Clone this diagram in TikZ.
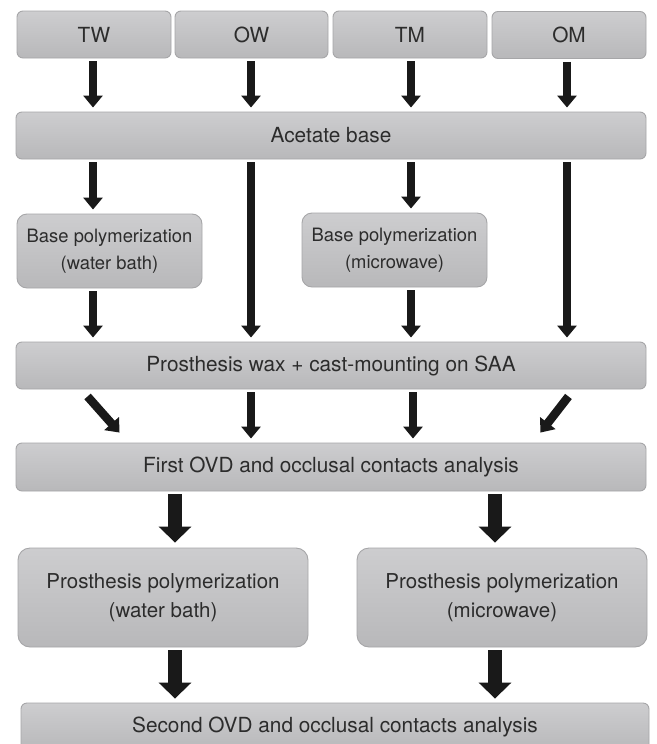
\documentclass[tikz,border=0pt]{standalone}
\usepackage{fontspec}
\setmainfont{TeX Gyre Heros}
\usetikzlibrary{arrows.meta,calc}
\definecolor{boxtop}{HTML}{CDCDCF}
\definecolor{boxbot}{HTML}{B8B8BA}
\definecolor{boxline}{HTML}{A6A6A8}
\definecolor{txt}{HTML}{2C2C2C}
\tikzset{
  box/.style={rectangle, rounded corners=6pt, top color=boxtop, bottom color=boxbot,
    draw=boxline, line width=0.9pt, text=txt, align=center, inner sep=0pt,
    font=\fontsize{20.8}{24}\selectfont},
  smallbox/.style={box, rounded corners=10pt, font=\fontsize{18.4}{27}\selectfont},
  bigbox/.style={box, rounded corners=12pt, font=\fontsize{20.5}{29}\selectfont},
  arr/.style={line width=8.5pt, draw=black!90, -{Triangle[width=19pt,length=12pt]}},
  bigarr/.style={line width=14pt, draw=black!90, -{Triangle[width=32pt,length=16pt]}}
}
\begin{document}
\begin{tikzpicture}[x=1pt,y=-1pt]
\useasboundingbox (0,0) rectangle (656,744);
\clip (0,0) rectangle (656,744);
\fill[white] (0,0) rectangle (656,744);
% column guides
\coordinate (c1) at (93,0);
\coordinate (c2) at (251,0);
\coordinate (c3) at (411,0);
\coordinate (c3b) at (413,0);
\coordinate (c4) at (567,0);
\coordinate (cL) at (175,0);
\coordinate (cR) at (495,0);
% boxes
\node[box, minimum width=154pt, minimum height=47pt] (tw) at (94,34.5) {TW};
\node[box, minimum width=153pt, minimum height=47pt] (ow) at (251.5,34.5) {OW};
\node[box, minimum width=154pt, minimum height=47pt] (tm) at (410,34.5) {TM};
\node[box, minimum width=154pt, minimum height=47pt] (om) at (569,35) {OM};
\node[box, minimum width=630pt, minimum height=47pt] (ace) at (331,135.5) {Acetate base};
\node[smallbox, minimum width=185pt, minimum height=74pt] (bpw) at (109.5,251) {Base polymerization\\(water bath)};
\node[smallbox, minimum width=185pt, minimum height=74pt] (bpm) at (394.5,250) {Base polymerization\\(microwave)};
\node[box, minimum width=630pt, minimum height=47pt] (wax) at (331,365.5) {Prosthesis wax + cast-mounting on SAA};
\node[box, minimum width=630pt, minimum height=48pt] (first) at (331,467) {First OVD and occlusal contacts analysis};
\node[bigbox, minimum width=290pt, minimum height=99pt] (ppw) at (163,597.5) {Prosthesis polymerization\\(water bath)};
\node[bigbox, minimum width=290pt, minimum height=99pt] (ppm) at (502,597.5) {Prosthesis polymerization\\(microwave)};
\node[box, minimum width=628pt, minimum height=48pt] (second) at (335,727) {Second OVD and occlusal contacts analysis};
% arrows: top row
\draw[arr, shorten <=3pt, shorten >=4pt] (tw.south -| c1) -- (ace.north -| c1);
\draw[arr, shorten <=3pt, shorten >=4pt] (ow.south -| c2) -- (ace.north -| c2);
\draw[arr, shorten <=3pt, shorten >=4pt] (tm.south -| c3) -- (ace.north -| c3);
\draw[arr, shorten <=3pt, shorten >=4pt] (om.south -| c4) -- (ace.north -| c4);
% from acetate
\draw[arr, shorten <=3pt, shorten >=4pt] (ace.south -| c1) -- (bpw.north -| c1);
\draw[arr, shorten <=3pt, shorten >=4pt] (ace.south -| c2) -- (wax.north -| c2);
\draw[arr, shorten <=3pt, shorten >=4pt] (ace.south -| c3) -- (bpm.north -| c3);
\draw[arr, shorten <=3pt, shorten >=4pt] (ace.south -| c4) -- (wax.north -| c4);
% from base polymerization
\draw[arr, shorten <=3pt, shorten >=4pt] (bpw.south -| c1) -- (wax.north -| c1);
\draw[arr, shorten <=3pt, shorten >=4pt] (bpm.south -| c3) -- (wax.north -| c3);
% from wax
\draw[arr] ($(wax.south west)+(72,7)$) -- ($(first.north west)+(104,-10)$);
\draw[arr, shorten <=3pt, shorten >=4pt] (wax.south -| c2) -- (first.north -| c2);
\draw[arr, shorten <=3pt, shorten >=4pt] (wax.south -| c3b) -- (first.north -| c3b);
\draw[arr] ($(wax.south east)+(-78,7)$) -- ($(first.north east)+(-106,-10)$);
% lower
\draw[bigarr, shorten <=3pt, shorten >=5pt] (first.south -| cL) -- (ppw.north -| cL);
\draw[bigarr, shorten <=3pt, shorten >=5pt] (first.south -| cR) -- (ppm.north -| cR);
\draw[bigarr, shorten <=3pt, shorten >=4pt] (ppw.south -| cL) -- (second.north -| cL);
\draw[bigarr, shorten <=3pt, shorten >=4pt] (ppm.south -| cR) -- (second.north -| cR);
\end{tikzpicture}
\end{document}
